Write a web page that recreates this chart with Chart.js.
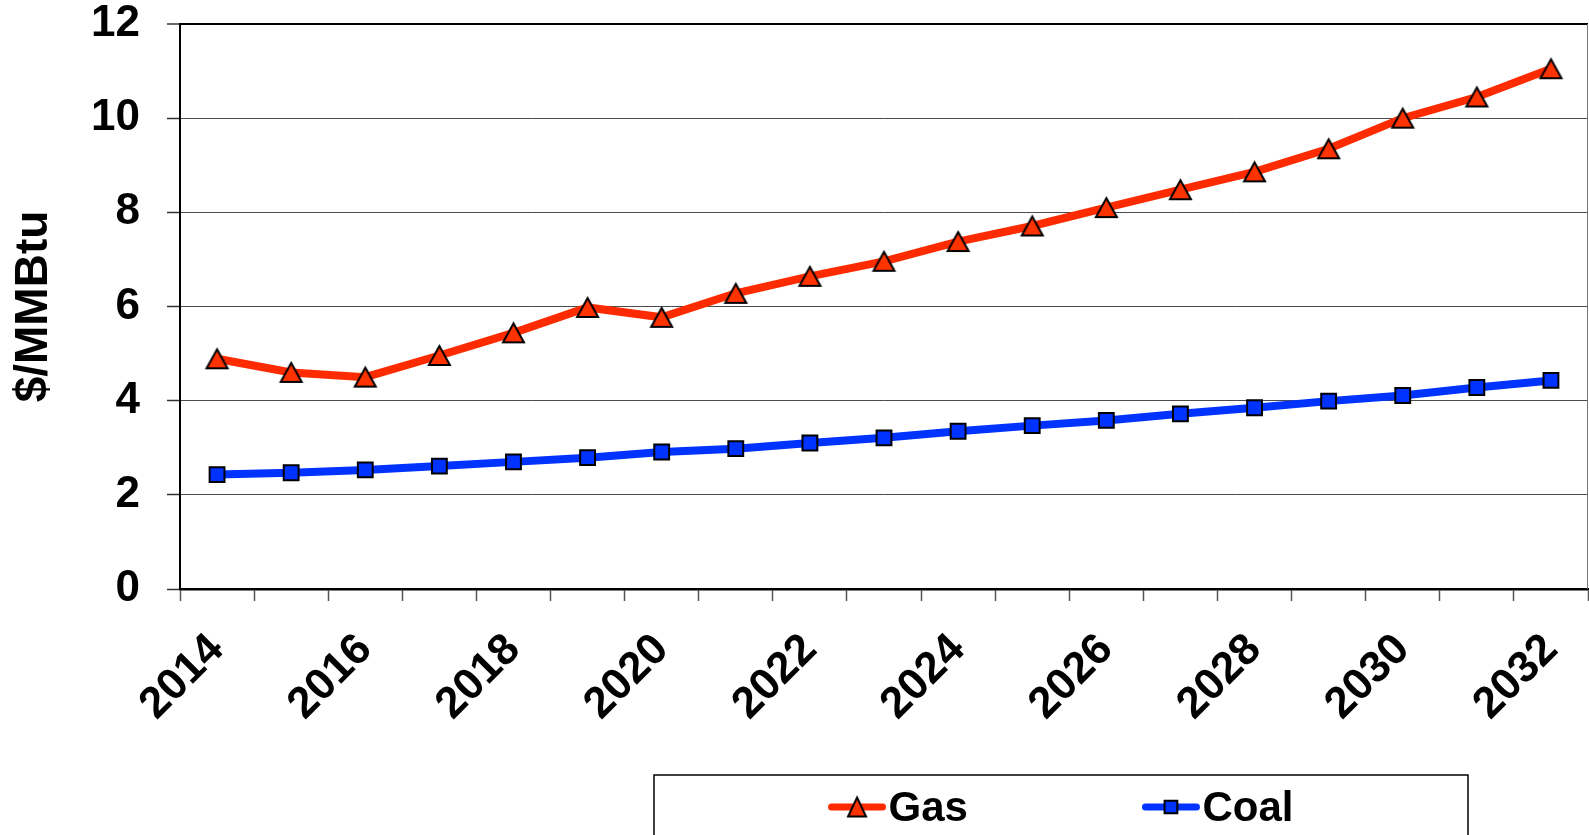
<!DOCTYPE html>
<html>
<head>
<meta charset="utf-8">
<title>Gas and coal price projection</title>
<script src="https://cdn.jsdelivr.net/npm/chart.js@4.4.1/dist/chart.umd.min.js"></script>
<style>
  html, body { margin: 0; padding: 0; background: #fff; }
  canvas { display: block; }
</style>
</head>
<body>
<canvas id="priceChart" width="1589" height="835"></canvas>
<script>
const years = ['2014', '2015', '2016', '2017', '2018', '2019', '2020', '2021', '2022', '2023',
               '2024', '2025', '2026', '2027', '2028', '2029', '2030', '2031', '2032'];
const gasPrices  = [4.89, 4.60, 4.50, 4.96, 5.44, 5.98, 5.77, 6.28, 6.64, 6.96,
                    7.38, 7.71, 8.10, 8.48, 8.86, 9.35, 10.00, 10.45, 11.05];
const coalPrices = [2.43, 2.47, 2.53, 2.61, 2.70, 2.79, 2.91, 2.98, 3.10, 3.21,
                    3.35, 3.47, 3.58, 3.72, 3.85, 3.99, 4.11, 4.28, 4.43];
const yMin = 0, yMax = 12, yStep = 2;

const FONT = "'Liberation Sans', Arial, sans-serif";
const RED = '#ff2b00';
const BLUE = '#0033ff';

// triangle marker drawn into a small canvas so its box is centred on the point
function triangleMarker(w, h, fill) {
  const c = document.createElement('canvas');
  c.width = w + 6;
  c.height = h + 6;
  const g = c.getContext('2d');
  g.beginPath();
  g.moveTo(c.width / 2, 3);
  g.lineTo(w + 3, h + 3);
  g.lineTo(3, h + 3);
  g.closePath();
  g.fillStyle = fill;
  g.fill();
  g.lineWidth = 2;
  g.strokeStyle = '#000';
  g.stroke();
  return c;
}

const gasMarker = triangleMarker(21, 19, '#ff3300');
const gasLegendMarker = triangleMarker(18, 19, '#ff3300');

// thin grey line closing the plot on the right
const plotFrame = {
  id: 'plotFrame',
  beforeDatasetsDraw(chart) {
    const {ctx, chartArea} = chart;
    ctx.save();
    ctx.strokeStyle = '#777';
    ctx.lineWidth = 1;
    ctx.beginPath();
    ctx.moveTo(chartArea.right - 0.5, chartArea.top);
    ctx.lineTo(chartArea.right - 0.5, chartArea.bottom);
    ctx.stroke();
    ctx.restore();
  }
};

// boxed legend under the axis, items spread evenly across the box
const legendBox = {
  id: 'legendBox',
  afterDraw(chart) {
    const ctx = chart.ctx;
    const box = {left: 654, top: 775, right: 1468, bottom: chart.height + 4};
    const y = 807;
    const sample = 57, gap = 3;

    ctx.save();
    ctx.lineWidth = 1.5;
    ctx.strokeStyle = '#000';
    ctx.strokeRect(box.left, box.top, box.right - box.left, box.bottom - box.top);

    ctx.font = 'bold 42px ' + FONT;
    const items = chart.data.datasets.map(ds => ({
      ds, w: sample + gap + ctx.measureText(ds.label).width
    }));
    const total = items.reduce((s, it) => s + it.w, 0);
    const space = (box.right - box.left - total) / (items.length + 1);

    let x = box.left + space;
    items.forEach(({ds, w}) => {
      ctx.strokeStyle = ds.borderColor;
      ctx.lineWidth = 7;
      ctx.lineCap = 'round';
      ctx.beginPath();
      ctx.moveTo(x + 3, y);
      ctx.lineTo(x + sample - 3, y);
      ctx.stroke();

      const mx = x + sample / 2;
      if (ds.label === 'Gas') {
        ctx.drawImage(gasLegendMarker, mx - gasLegendMarker.width / 2, y - gasLegendMarker.height / 2);
      } else {
        ctx.fillStyle = ds.pointBackgroundColor;
        ctx.strokeStyle = '#000';
        ctx.lineWidth = 2;
        Chart.helpers.drawPoint(ctx, {pointStyle: 'rect', radius: 9, borderWidth: 2, rotation: 0}, mx, y);
      }

      ctx.fillStyle = '#000';
      ctx.textAlign = 'left';
      ctx.textBaseline = 'middle';
      ctx.fillText(ds.label, x + sample + gap, y + 2);
      x += w + space;
    });
    ctx.restore();
  }
};

new Chart(document.getElementById('priceChart'), {
  type: 'line',
  data: {
    labels: years,
    datasets: [
      {
        label: 'Gas',
        data: gasPrices,
        borderColor: RED,
        borderWidth: 8,
        tension: 0,
        pointStyle: gasMarker,
        pointRadius: 10,
        pointHoverRadius: 10
      },
      {
        label: 'Coal',
        data: coalPrices,
        borderColor: BLUE,
        borderWidth: 8,
        tension: 0,
        pointStyle: 'rect',
        pointRadius: 10.5,
        pointHoverRadius: 10.5,
        pointBackgroundColor: BLUE,
        pointBorderColor: '#000',
        pointBorderWidth: 2
      }
    ]
  },
  options: {
    responsive: false,
    animation: false,
    devicePixelRatio: 1,
    layout: {autoPadding: false, padding: {top: 24, right: 1, left: 0, bottom: 0}},
    plugins: {
      legend: {display: false},
      tooltip: {enabled: false},
      title: {display: false}
    },
    scales: {
      x: {
        offset: true,
        grid: {
          offset: true,
          drawOnChartArea: false,
          drawTicks: true,
          tickLength: 12,
          tickColor: '#555',
          tickWidth: 1.5
        },
        border: {color: '#000', width: 2.5},
        ticks: {
          autoSkip: false,
          minRotation: 45,
          maxRotation: 45,
          padding: 23,
          color: '#000',
          font: {family: FONT, size: 44, weight: 'bold'},
          callback: (v, i) => (i % 2 === 0 ? years[i] : '')
        },
        afterFit: s => {
          s.height = 246;
          s.paddingLeft = 0;
          s.paddingRight = 0;
          s.paddingTop = 0;
          s.paddingBottom = 0;
        }
      },
      y: {
        min: yMin,
        max: yMax,
        ticks: {
          stepSize: yStep,
          padding: 27,
          color: '#000',
          font: {family: FONT, size: 44, weight: 'bold'}
        },
        grid: {
          color: c => (c.tick && (c.tick.value === yMax || c.tick.value === yMin) ? '#000' : 'rgba(0,0,0,0.7)'),
          lineWidth: c => (c.tick && c.tick.value === yMax ? 2 : 1),
          tickLength: 13,
          tickColor: '#333',
          tickWidth: 1.5
        },
        border: {color: '#000', width: 2},
        title: {
          display: true,
          text: '$/MMBtu',
          color: '#000',
          font: {family: FONT, size: 46, weight: 'bold'},
          padding: {top: 7, bottom: 0}
        },
        afterFit: s => {
          s.width = 180;
          s.paddingTop = 0;
          s.paddingBottom = 0;
          s.paddingLeft = 0;
          s.paddingRight = 0;
        }
      }
    }
  },
  plugins: [plotFrame, legendBox]
});
</script>
</body>
</html>
